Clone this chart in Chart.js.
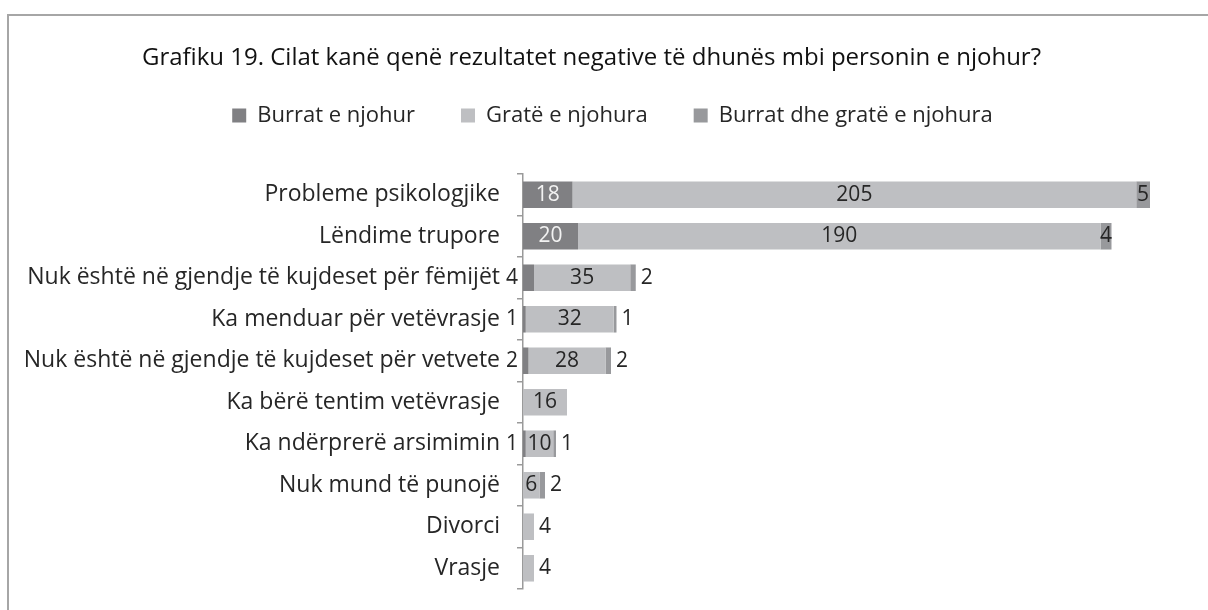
<!DOCTYPE html>
<html>
<head>
<meta charset="utf-8">
<script src="https://cdn.jsdelivr.net/npm/chart.js@4"></script>
<style>
  html, body { margin: 0; padding: 0; background: #fff; overflow: hidden; }
  #frame { position: absolute; left: 7px; top: 14px; width: 1400px; height: 800px; border: 2px solid #a6a6a6; }
  #wrap { position: absolute; left: 0; top: 0; width: 1208px; height: 610px; }
</style>
</head>
<body>
<div id="frame"></div>
<div id="wrap"><canvas id="chart"></canvas></div>
<script>
// Categories, top to bottom
const categories = [
  "Probleme psikologjike",
  "Lëndime trupore",
  "Nuk është në gjendje të kujdeset për fëmijët",
  "Ka menduar për vetëvrasje",
  "Nuk është në gjendje të kujdeset për vetvete",
  "Ka bërë tentim vetëvrasje",
  "Ka ndërprerë arsimimin",
  "Nuk mund të punojë",
  "Divorci",
  "Vrasje",
];
const seriesNames = ["Burrat e njohur", "Gratë e njohura", "Burrat dhe gratë e njohura"];
const burrat = [18, 20, 4, 1, 2, 0, 1, 0, 0, 0];
const grate = [205, 190, 35, 32, 28, 16, 10, 6, 4, 4];
const burratDheGrate = [5, 4, 2, 1, 2, 0, 1, 2, 0, 0];

const colors = ["#808083", "#bebfc2", "#98999c"];
// below this value the label goes outside the bar
const minInside = [10, 5, 3];
const labelColors = ["#f2f2f2", "#262626", "#262626"];

const FONT = "'Open Sans', Lato, sans-serif";

// Draw the value labels the way the original sheet does
const valueLabels = {
  id: "valueLabels",
  afterDatasetsDraw(chart) {
    const ctx = chart.ctx;
    ctx.save();
    ctx.font = "21px " + FONT;
    ctx.textBaseline = "middle";
    chart.data.datasets.forEach((ds, i) => {
      const meta = chart.getDatasetMeta(i);
      meta.data.forEach((bar, j) => {
        const v = ds.data[j];
        if (!v) return;
        const left = Math.min(bar.x, bar.base);
        const right = Math.max(bar.x, bar.base);
        if (v >= minInside[i]) {
          ctx.textAlign = "center";
          ctx.fillStyle = labelColors[i];
          ctx.fillText(v, (left + right) / 2, bar.y);
        } else if (i === 0) {
          ctx.textAlign = "right";
          ctx.fillStyle = "#262626";
          ctx.fillText(v, left - 5, bar.y);
        } else {
          ctx.textAlign = "left";
          ctx.fillStyle = "#262626";
          ctx.fillText(v, right + 5, bar.y);
        }
      });
    });
    ctx.restore();
  },
};

// the legend in the original sits a bit right of centre
const legendShift = {
  id: "legendShift",
  afterLayout(chart) {
    chart.legend.left += 21;
    chart.legend.right += 21;
  },
};

const chartSetup = {
  type: "bar",
  data: {
    labels: categories,
    datasets: [
      { label: seriesNames[0], data: burrat, backgroundColor: colors[0] },
      { label: seriesNames[1], data: grate, backgroundColor: colors[1] },
      { label: seriesNames[2], data: burratDheGrate, backgroundColor: colors[2] },
    ],
  },
  options: {
    indexAxis: "y",
    responsive: true,
    maintainAspectRatio: false,
    animation: false,
    datasets: {
      bar: { barPercentage: 0.64, categoryPercentage: 1, borderWidth: 0 },
    },
    layout: { padding: { top: 43.6, left: 0, right: 25, bottom: 21 } },
    scales: {
      x: {
        stacked: true,
        min: 0,
        max: 240,
        position: "top",
        ticks: { display: false },
        grid: { display: false },
        border: { display: false },
        // leaves the gap between legend and bars
        afterFit: (s) => { s.height = 37.6; },
      },
      y: {
        stacked: true,
        ticks: { color: "#262626", font: { family: FONT, size: 23 }, padding: 17 },
        grid: { drawOnChartArea: false, tickLength: 6, color: "#9a9a9a", lineWidth: 1.5 },
        border: { color: "#9a9a9a", width: 1.5 },
        afterFit: (s) => {
          s.width = 523;
          s.paddingTop = 0;
          s.paddingBottom = 0;
        },
      },
    },
    plugins: {
      title: {
        display: true,
        text: "Grafiku 19. Cilat kanë qenë rezultatet negative të dhunës mbi personin e njohur?",
        color: "#111",
        font: { family: FONT, size: 24, weight: "500" },
        // negative bottom pulls the legend up so its padding can stay wide
        padding: { top: 0, bottom: -14 },
      },
      legend: {
        display: true,
        position: "top",
        labels: {
          color: "#262626",
          font: { family: FONT, size: 22 },
          boxWidth: 14,
          boxHeight: 14,
          padding: 46,
        },
      },
      tooltip: { enabled: false },
    },
  },
  plugins: [valueLabels, legendShift],
};

const myChart = new Chart(document.getElementById("chart").getContext("2d"), chartSetup);
</script>
</body>
</html>
